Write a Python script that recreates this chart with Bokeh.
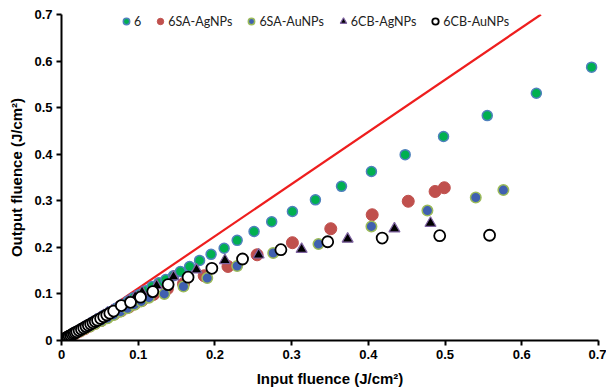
from bokeh.plotting import figure
from bokeh.models import Range1d, FixedTicker, NumeralTickFormatter
from bokeh.embed import file_html
from bokeh.resources import INLINE

# ---- data ----
x_6 = [0.004, 0.008, 0.012, 0.017, 0.022, 0.028, 0.034, 0.041, 0.048, 0.055, 0.063, 0.071,
       0.079, 0.087, 0.094, 0.102, 0.110, 0.118, 0.127, 0.136, 0.146, 0.155, 0.167, 0.180,
       0.195, 0.212, 0.229, 0.251, 0.274, 0.301, 0.331, 0.365, 0.404, 0.448, 0.498, 0.555,
       0.619, 0.691]
y_6 = [0.004, 0.008, 0.012, 0.017, 0.021, 0.027, 0.033, 0.040, 0.047, 0.054, 0.062, 0.069,
       0.077, 0.085, 0.092, 0.099, 0.107, 0.116, 0.124, 0.131, 0.139, 0.148, 0.159, 0.172,
       0.185, 0.198, 0.215, 0.234, 0.255, 0.277, 0.302, 0.331, 0.363, 0.399, 0.438, 0.483,
       0.531, 0.587]

x_sa_ag = [0.004, 0.008, 0.013, 0.018, 0.024, 0.030, 0.037, 0.044, 0.052, 0.060, 0.069, 0.078,
           0.088, 0.096, 0.105, 0.120, 0.138, 0.159, 0.186, 0.217, 0.255, 0.301, 0.351, 0.405,
           0.452, 0.487, 0.499]
y_sa_ag = [0.0035, 0.007, 0.011, 0.015, 0.020, 0.025, 0.031, 0.037, 0.043, 0.050, 0.057, 0.064,
           0.072, 0.079, 0.086, 0.099, 0.111, 0.122, 0.139, 0.159, 0.184, 0.210, 0.240, 0.270,
           0.299, 0.320, 0.328]

x_sa_au = [0.004, 0.008, 0.013, 0.018, 0.024, 0.030, 0.037, 0.044, 0.052, 0.060, 0.068, 0.077,
           0.086, 0.095, 0.104, 0.114, 0.134, 0.159, 0.190, 0.229, 0.276, 0.335, 0.404, 0.477,
           0.540, 0.576]
y_sa_au = [0.0035, 0.007, 0.011, 0.015, 0.020, 0.025, 0.030, 0.036, 0.042, 0.048, 0.055, 0.062,
           0.069, 0.077, 0.084, 0.092, 0.100, 0.116, 0.134, 0.160, 0.188, 0.207, 0.245, 0.279,
           0.307, 0.323]

x_cb_ag = [0.002, 0.005, 0.008, 0.011, 0.014, 0.017, 0.020, 0.024, 0.028, 0.032, 0.036, 0.040,
           0.045, 0.050, 0.055, 0.060, 0.066, 0.072, 0.078, 0.087, 0.096, 0.105, 0.124, 0.146,
           0.176, 0.213, 0.257, 0.313, 0.373, 0.434, 0.481]
y_cb_ag = [0.002, 0.0047, 0.0075, 0.010, 0.013, 0.016, 0.019, 0.023, 0.027, 0.031, 0.035, 0.039,
           0.044, 0.049, 0.054, 0.059, 0.064, 0.070, 0.076, 0.085, 0.094, 0.104, 0.118, 0.137,
           0.152, 0.172, 0.184, 0.196, 0.218, 0.240, 0.252]

x_cb_au = [0.002, 0.004, 0.006, 0.008, 0.010, 0.012, 0.014, 0.016, 0.018, 0.020, 0.023, 0.026,
           0.029, 0.032, 0.035, 0.038, 0.041, 0.044, 0.047, 0.051, 0.055, 0.059, 0.063, 0.068,
           0.078, 0.090, 0.103, 0.119, 0.139, 0.165, 0.196, 0.236, 0.286, 0.347, 0.418, 0.493,
           0.558]
y_cb_au = [0.0019, 0.0037, 0.0056, 0.0075, 0.0093, 0.011, 0.013, 0.015, 0.0168, 0.0186, 0.0214,
           0.0242, 0.027, 0.0298, 0.0326, 0.0353, 0.038, 0.041, 0.0437, 0.0474, 0.051, 0.0549,
           0.0586, 0.0632, 0.075, 0.082, 0.093, 0.105, 0.120, 0.136, 0.155, 0.175, 0.195, 0.212,
           0.220, 0.225, 0.226]

fit_x = [0.0, 0.625]
fit_y = [0.0, 0.70]

ticks = [0, 0.1, 0.2, 0.3, 0.4, 0.5, 0.6, 0.7]
x_title = "Input fluence (J/cm²)"
y_title = "Output fluence (J/cm²)"

# ---- figure ----
p = figure(width=606, height=391, output_backend="svg", toolbar_location=None,
           x_range=Range1d(0, 0.7), y_range=Range1d(0, 0.7),
           min_border_left=61, min_border_right=8, min_border_top=14, min_border_bottom=51)
p.outline_line_color = None
p.xgrid.visible = False
p.ygrid.visible = False
p.background_fill_color = "white"
p.border_fill_color = "white"

for ax in (p.xaxis[0], p.yaxis[0]):
    ax.ticker = FixedTicker(ticks=ticks)
    ax.formatter = NumeralTickFormatter(format="0.[0]")
    ax.axis_line_width = 2
    ax.axis_line_color = "black"
    ax.major_tick_line_width = 2
    ax.major_tick_line_color = "black"
    ax.major_tick_in = 0
    ax.major_tick_out = 5
    ax.minor_tick_line_color = None
    ax.major_label_text_font = "Liberation Sans"
    ax.major_label_text_font_style = "bold"
    ax.major_label_text_font_size = "13px"
    ax.major_label_text_color = "black"
    ax.axis_label_text_font = "Liberation Sans"
    ax.axis_label_text_font_style = "bold"
    ax.axis_label_text_font_size = "15px"
    ax.axis_label_text_color = "black"

p.xaxis.axis_label = x_title
p.yaxis.axis_label = y_title
p.xaxis.major_label_standoff = 4
p.yaxis.major_label_standoff = 4
p.xaxis.axis_label_standoff = 8
p.yaxis.axis_label_standoff = 6

p.line(fit_x, fit_y, line_color="#EE1E1E", line_width=2.2)

p.scatter(x_6, y_6, size=10, marker="circle", fill_color="#00B050",
          line_color="#4F81BD", line_width=1.5, legend_label="6")
p.scatter(x_sa_ag, y_sa_ag, size=12, marker="circle", fill_color="#C0504D",
          line_color="#C0504D", line_width=1, legend_label="6SA-AgNPs")
p.scatter(x_sa_au, y_sa_au, size=10.5, marker="circle", fill_color="#4060B0",
          line_color="#9BBB59", line_width=1.5, legend_label="6SA-AuNPs")
p.scatter(x_cb_ag, y_cb_ag, size=11, marker="triangle", fill_color="black",
          line_color="#8064A2", line_width=1.2, legend_label="6CB-AgNPs")
p.scatter(x_cb_au, y_cb_au, size=11, marker="circle", fill_color="white",
          line_color="black", line_width=1.8, legend_label="6CB-AuNPs")

lg = p.legend[0]
lg.orientation = "horizontal"
lg.location = (57, 310)
lg.label_text_font = "Lato"
lg.label_text_font_size = "12.5px"
lg.label_text_color = "#222222"
lg.glyph_width = 16
lg.glyph_height = 18
lg.label_width = 0
lg.label_standoff = 0
lg.spacing = 11
lg.padding = 0
lg.margin = 0
lg.border_line_alpha = 0
lg.background_fill_alpha = 0

open("out.html", "w").write(file_html(p, INLINE))
